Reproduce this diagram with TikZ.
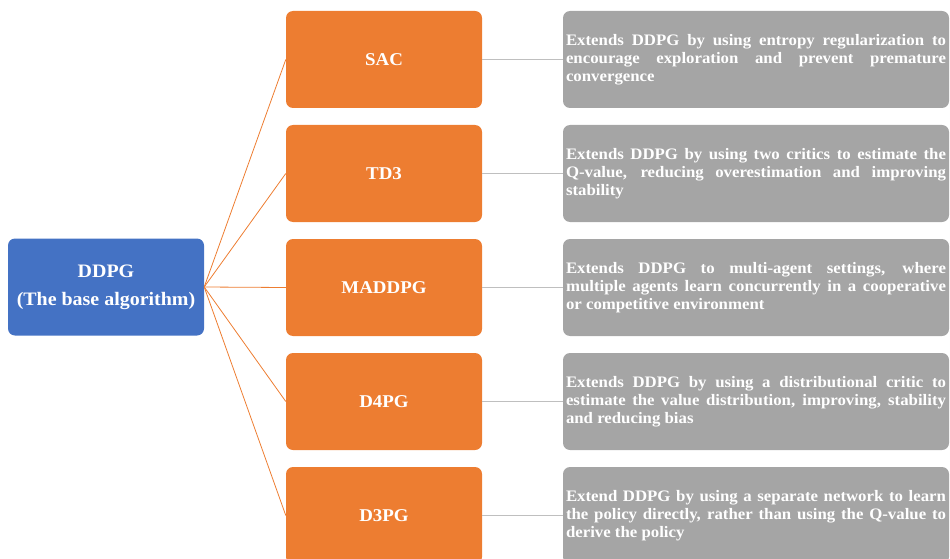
\documentclass[tikz,border=0pt]{standalone}
\usepackage{fontspec}
\setmainfont{Liberation Serif}[FakeStretch=1.05]
\usetikzlibrary{positioning}
\definecolor{ddpgblue}{HTML}{4472C4}
\definecolor{varorange}{HTML}{ED7D31}
\definecolor{notegray}{HTML}{A5A5A5}
\definecolor{linkgray}{HTML}{BFBFBF}

\begin{document}
\begin{tikzpicture}[x=1pt,y=-1pt,
    box/.style={rounded corners=7pt,minimum width=196pt,minimum height=97pt,text=white,
      font=\bfseries\fontsize{18}{22}\selectfont},
    base/.style={box,fill=ddpgblue,align=center,font=\bfseries\fontsize{19}{28}\selectfont},
    variant/.style={box,fill=varorange},
    note/.style={box,fill=notegray,minimum width=386pt,text width=380pt,inner sep=3pt,
      align=justify,font=\bfseries\fontsize{16}{18}\selectfont},
    fan/.style={draw=varorange,line width=0.8pt},
    link/.style={draw=linkgray,line width=1.2pt}]
      \useasboundingbox (0,0) rectangle (950,559);

      \node[base] (base) at (106,287) {DDPG\\(The base algorithm)};

      \node[variant] (sac)    at (384,59.5)  {SAC};
      \node[variant] (td3)    at (384,173.5) {TD3};
      \node[variant] (maddpg) at (384,287.5) {MADDPG};
      \node[variant] (d4pg)   at (384,401.5) {D4PG};
      \node[variant] (d3pg)   at (384,515.5) {D3PG};

      \node[note] (sacnote) at (756,59.5) {Extends DDPG by using entropy regularization to\linebreak
        encourage exploration and prevent premature\linebreak convergence};
      \node[note] (td3note) at (756,173.5) {Extends DDPG by using two critics to estimate the\linebreak
        Q-value, reducing overestimation and improving\linebreak stability};
      \node[note] (maddpgnote) at (756,287.5) {Extends DDPG to multi-agent settings, where\linebreak
        multiple agents learn concurrently in a cooperative\linebreak or competitive environment};
      \node[note] (d4pgnote) at (756,401.5) {Extends DDPG by using a distributional critic to\linebreak
        estimate the value distribution, improving, stability\linebreak and reducing bias};
      \node[note] (d3pgnote) at (756,515.5) {Extend DDPG by using a separate network to learn\linebreak
        the policy directly, rather than using the Q-value to\linebreak derive the policy};

      \draw[fan] (base.east) -- (sac.west);
      \draw[fan] (base.east) -- (td3.west);
      \draw[fan] (base.east) -- (maddpg.west);
      \draw[fan] (base.east) -- (d4pg.west);
      \draw[fan] (base.east) -- (d3pg.west);

      \draw[link] (sac.east) -- (sacnote.west);
      \draw[link] (td3.east) -- (td3note.west);
      \draw[link] (maddpg.east) -- (maddpgnote.west);
      \draw[link] (d4pg.east) -- (d4pgnote.west);
      \draw[link] (d3pg.east) -- (d3pgnote.west);

    \end{tikzpicture}
\end{document}
